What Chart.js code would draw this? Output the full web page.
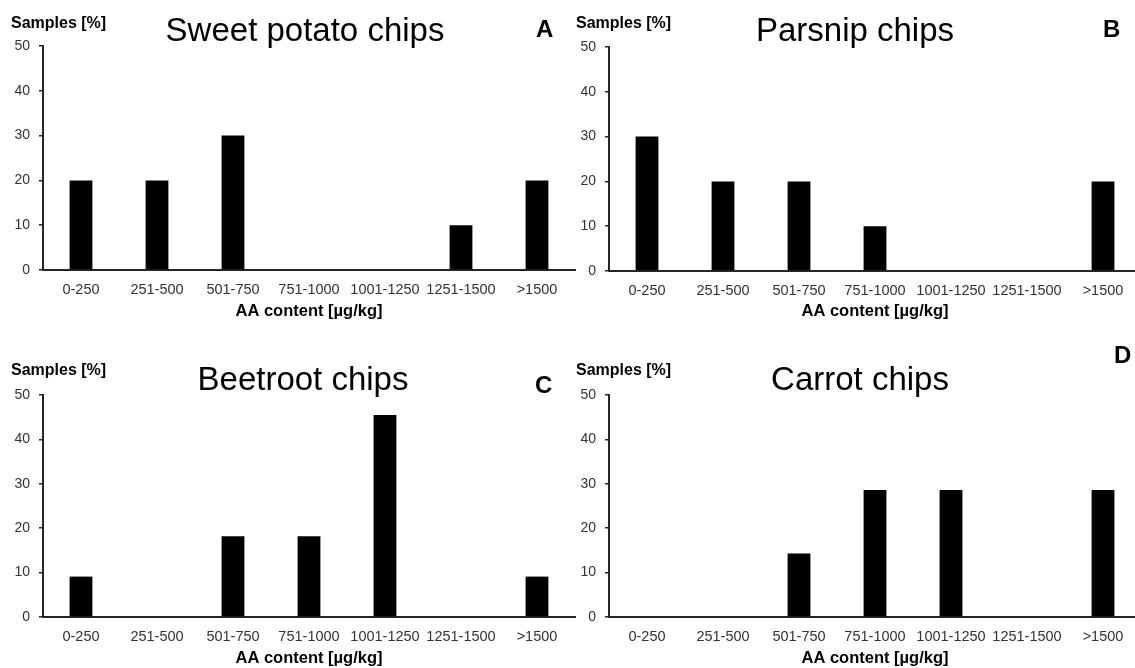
<!DOCTYPE html>
<html><head><meta charset="utf-8">
<script src="https://cdn.jsdelivr.net/npm/chart.js@4.4.1/dist/chart.umd.min.js"></script>
<style>
html,body{margin:0;padding:0;background:#fff;overflow:hidden;width:1135px;height:668px;position:relative;}
canvas{position:absolute;}
</style></head><body>
<canvas id="cA" width="580" height="334" style="left:0;top:0"></canvas>
<canvas id="cB" width="580" height="334" style="left:566px;top:0"></canvas>
<canvas id="cC" width="580" height="334" style="left:0;top:334px"></canvas>
<canvas id="cD" width="580" height="334" style="left:566px;top:334px"></canvas>
<script>
// ---- data ----
const categories = ['0-250','251-500','501-750','751-1000','1001-1250','1251-1500','>1500'];
const sweetPotato = [20, 20, 30, 0, 0, 10, 20];
const parsnip     = [30, 20, 20, 10, 0, 0, 20];
const beetroot    = [9.1, 0, 18.2, 18.2, 45.5, 0, 9.1];
const carrot      = [0, 0, 14.3, 28.6, 28.6, 0, 28.6];
const yTicks      = [0, 10, 20, 30, 40, 50];
const titles      = ['Sweet potato chips', 'Parsnip chips', 'Beetroot chips', 'Carrot chips'];
const letters     = ['A', 'B', 'C', 'D'];
const yAxisLabel  = 'Samples [%]';
const xAxisLabel  = 'AA content [µg/kg]';

const FONT = '"Liberation Sans", Arial, sans-serif';

const panelText = {
  id: 'panelText',
  afterDraw(chart, args, o) {
    const ctx = chart.ctx;
    ctx.save();
    ctx.fillStyle = '#000';
    ctx.textBaseline = 'alphabetic';
    ctx.font = '33px ' + FONT;
    ctx.textAlign = 'center';
    ctx.fillText(o.title, o.tx, o.ty);
    ctx.textAlign = 'left';
    ctx.font = 'bold 16px ' + FONT;
    ctx.fillText(yAxisLabel, o.sx, o.sy);
    ctx.font = 'bold 24px ' + FONT;
    ctx.fillText(o.letter, o.lx, o.ly);
    ctx.restore();
  }
};

const layouts = [
  {id:'cA', data: sweetPotato, top:46, xh:64, xtp:13, tx:305, ty:41, sx:11, sy:28, lx:536, ly:37},
  {id:'cB', data: parsnip,     top:47, xh:63, xtp:13, tx:289, ty:41, sx:10, sy:28, lx:537, ly:37},
  {id:'cC', data: beetroot,    top:61, xh:51, xtp:0,  tx:303, ty:56, sx:11, sy:41, lx:535, ly:59},
  {id:'cD', data: carrot,      top:61, xh:51, xtp:0,  tx:294, ty:56, sx:10, sy:41, lx:548, ly:29}
];

layouts.forEach((L, i) => {
  new Chart(document.getElementById(L.id), {
    type: 'bar',
    data: {
      labels: categories,
      datasets: [{
        data: L.data,
        backgroundColor: '#000',
        borderWidth: 0,
        barPercentage: 0.3,
        categoryPercentage: 1.0
      }]
    },
    plugins: [panelText],
    options: {
      responsive: false,
      animation: false,
      layout: {padding: {left: 0, right: 5, top: L.top, bottom: 0}},
      plugins: {
        legend: {display: false},
        tooltip: {enabled: false},
        panelText: {title: titles[i], letter: letters[i], tx: L.tx, ty: L.ty, sx: L.sx, sy: L.sy, lx: L.lx, ly: L.ly}
      },
      scales: {
        x: {
          grid: {display: false},
          border: {display: true, color: '#262626', width: 2},
          ticks: {color: '#333', font: {family: FONT, size: 14.5}, padding: 3, maxRotation: 0, autoSkip: false},
          title: {display: true, text: xAxisLabel, color: '#000', font: {family: FONT, size: 16.5, weight: 'bold'}, padding: {top: 0, bottom: L.xtp}},
          afterFit: s => { s.height = L.xh; }
        },
        y: {
          min: 0, max: 50,
          afterBuildTicks: s => { s.ticks = yTicks.map(v => ({value: v})); },
          grid: {drawOnChartArea: false, drawTicks: true, tickLength: 4, color: '#262626', lineWidth: 1.5},
          border: {display: true, color: '#262626', width: 2},
          ticks: {color: '#333', font: {family: FONT, size: 14}, padding: 9},
          afterFit: s => { s.width = 43; }
        }
      }
    }
  });
});
</script>
</body></html>
